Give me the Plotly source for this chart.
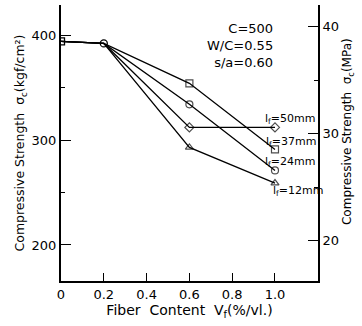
import plotly.graph_objects as go

# Data
vf = [0.0, 0.2, 0.6, 1.0]
lf50 = [394, 392, 312, 312]
lf37 = [394, 392, 354, 291]
lf24 = [394, 392, 334, 271]
lf12 = [394, 392, 293, 259]
series = [
    ("l<sub>f</sub>=50mm", lf50, "diamond-open"),
    ("l<sub>f</sub>=37mm", lf37, "square-open"),
    ("l<sub>f</sub>=24mm", lf24, "circle-open"),
    ("l<sub>f</sub>=12mm", lf12, "triangle-up-open"),
]
label_pos = [(0.945, 320), (0.95, 298), (0.945, 279), (0.98, 251)]
KGF_PER_MPA = 10.197

y_lo, y_hi = 165.7, 428.6

fig = go.Figure()
for (name, vals, sym) in series:
    fig.add_trace(go.Scatter(
        x=vf, y=vals, mode="lines+markers",
        line=dict(color="black", width=1.3),
        marker=dict(symbol=sym, size=[0, 0, 7, 7], color="black",
                    line=dict(color="black", width=1.2)),
        showlegend=False))
# shared start points
fig.add_trace(go.Scatter(
    x=vf[:2], y=lf50[:2], mode="markers",
    marker=dict(symbol=["square-open", "circle-open"], size=7, color="black",
                line=dict(color="black", width=1.3)),
    showlegend=False))
# dummy for right axis
fig.add_trace(go.Scatter(x=[0], y=[30], yaxis="y2", mode="markers",
                         marker=dict(opacity=0), showlegend=False, hoverinfo="skip"))

font = dict(family="DejaVu Sans", size=13, color="black")
annotations = []
for (name, vals, sym), (lx, ly) in zip(series, label_pos):
    annotations.append(dict(x=lx, y=ly, xref="x", yref="y", text=name, showarrow=False,
                            xanchor="left", yanchor="middle",
                            font=dict(family="DejaVu Sans", size=11, color="black")))
annotations.append(dict(x=1.0, y=415, xref="x", yref="y",
                        text="C=500<br>W/C=0.55<br>s/a=0.60", showarrow=False,
                        xanchor="right", yanchor="top", align="right",
                        font=dict(family="DejaVu Sans", size=13, color="black")))
annotations.append(dict(x=1.117, y=0.54, xref="paper", yref="paper",
                        text="Compressive Strength  σ<sub>c</sub>(MPa)", showarrow=False,
                        textangle=-90, xanchor="center", yanchor="middle",
                        font=dict(family="DejaVu Sans", size=12, color="black")))

fig.update_layout(
    width=362, height=326,
    margin=dict(l=61, r=44, t=5, b=45),
    plot_bgcolor="white", paper_bgcolor="white",
    font=font,
    annotations=annotations,
    xaxis=dict(range=[0, 1.201], tickvals=[0, 0.2, 0.4, 0.6, 0.8, 1.0],
               ticktext=["0", "0.2", "0.4", "0.6", "0.8", "1.0"],
               ticks="inside", ticklen=8, tickcolor="black", tickwidth=1.2,
               showline=True, linecolor="black", linewidth=2, mirror=False,
               showgrid=False, zeroline=False,
               title=dict(text="Fiber  Content  V<sub>f</sub>(%/vl.)", standoff=0,
                          font=dict(family="DejaVu Sans", size=14))),
    yaxis=dict(range=[y_lo, y_hi], tickvals=[200, 300, 400],
               ticks="inside", ticklen=10, tickcolor="black", tickwidth=1.2,
               minor=dict(tickvals=[250, 350], ticks="inside", ticklen=4,
                          tickcolor="black", showgrid=False),
               showline=True, linecolor="black", linewidth=2,
               showgrid=False, zeroline=False,
               title=dict(text="Compressive Strength  σ<sub>c</sub>(kgf/cm²)", standoff=4,
                          font=dict(family="DejaVu Sans", size=12.5))),
    yaxis2=dict(range=[y_lo / KGF_PER_MPA, y_hi / KGF_PER_MPA], overlaying="y", side="right",
                tickvals=[20, 30, 40],
                ticks="inside", ticklen=10, tickcolor="black", tickwidth=1.2,
                minor=dict(tickvals=[25, 35], ticks="inside", ticklen=4,
                           tickcolor="black", showgrid=False),
                showline=True, linecolor="black", linewidth=2,
                showgrid=False, zeroline=False),
)
fig.write_html("out.html")
